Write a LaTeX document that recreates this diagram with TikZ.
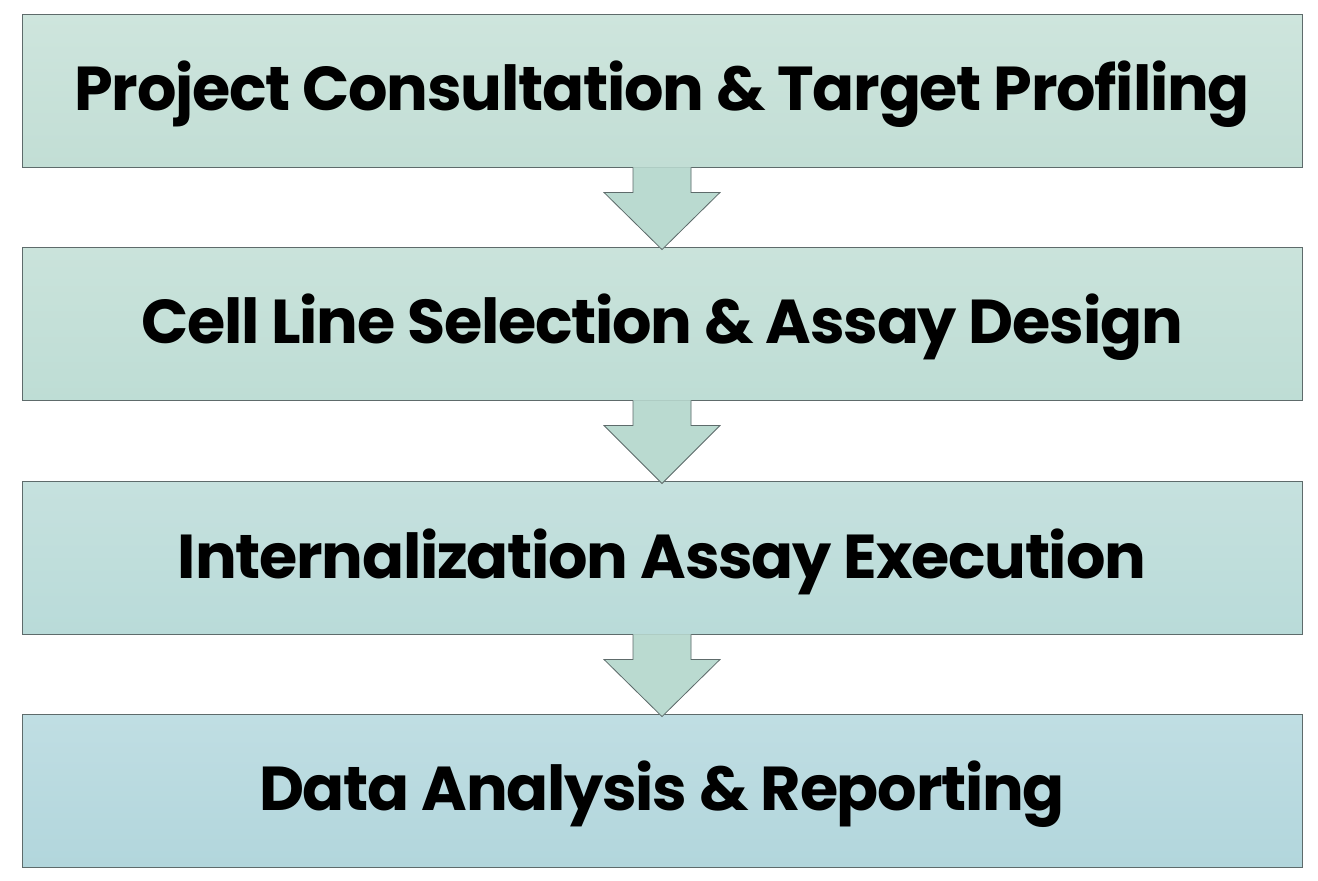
\documentclass[tikz,border=0pt]{standalone}
\usepackage{fontspec}
\setmainfont{Poppins}[LetterSpace=-2.0]
\usetikzlibrary{calc}
\definecolor{edge}{HTML}{5E6B6B}
\definecolor{arrowfill}{HTML}{BADAD0}
\tikzset{
  stepbox/.style={draw=edge, line width=0.9pt, minimum width=1280pt, minimum height=153pt,
    inner sep=0pt, font=\fontsize{62}{68}\selectfont\bfseries, text=black},
  steptext/.style={inner sep=0pt, font=\fontsize{62}{68}\selectfont\bfseries, text=black, yshift=-4pt},
  downarrow/.style={draw=edge, line width=0.8pt, fill=arrowfill, line join=miter},
}
\begin{document}
\begin{tikzpicture}[x=1pt,y=-1pt]
\useasboundingbox (0,0) rectangle (1318,881);
\fill[white] (0,0) rectangle (1318,881);
\node[stepbox, top color={rgb,255:red,206;green,229;blue,221}, bottom color={rgb,255:red,194;green,222;blue,213}] (b1) at (662,90.5) {};
\node[stepbox, top color={rgb,255:red,202;green,227;blue,219}, bottom color={rgb,255:red,190;green,221;blue,213}] (b2) at (662,323.5) {};
\node[stepbox, top color={rgb,255:red,198;green,225;blue,222}, bottom color={rgb,255:red,185;green,219;blue,217}] (b3) at (662,557.5) {};
\node[stepbox, top color={rgb,255:red,192;green,222;blue,227}, bottom color={rgb,255:red,178;green,214;blue,220}] (b4) at (662,790.5) {};
\node[steptext] (t1) at (b1.center) {Project Consultation \& Target Profiling};
\node[steptext] (t2) at (b2.center) {Cell Line Selection \& Assay Design};
\node[steptext] (t3) at (b3.center) {Internalization Assay Execution};
\node[steptext] (t4) at (b4.center) {Data Analysis \& Reporting};
\foreach \a/\b in {b1/b2,b2/b3,b3/b4}{
  \fill[arrowfill] ($(\a.south)+(-29,0)$) -- ++(0,25) -- ++(-29,0) -- ($(\b.north)+(0,3)$) -- ($(\a.south)+(58,25)$) -- ++(-29,0) -- ($(\a.south)+(29,0)$) -- cycle;
  \draw[downarrow] ($(\a.south)+(-29,0)$) -- ++(0,25) -- ++(-29,0) -- ($(\b.north)+(0,3)$) -- ($(\a.south)+(58,25)$) -- ++(-29,0) -- ($(\a.south)+(29,0)$);
}
\end{tikzpicture}
\end{document}
